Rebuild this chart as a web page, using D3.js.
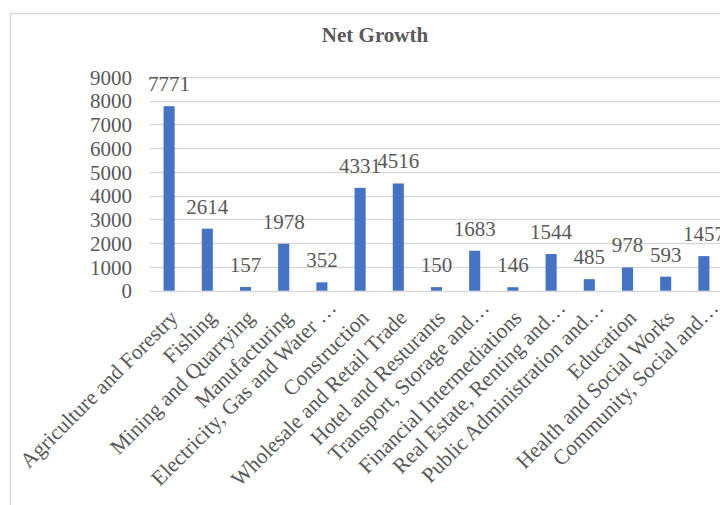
<!DOCTYPE html>
<html>
<head>
<meta charset="utf-8">
<script src="https://cdn.jsdelivr.net/npm/d3@7"></script>
<style>
  html, body { margin: 0; padding: 0; background: #fff; overflow: hidden; }
  svg { display: block; }
</style>
</head>
<body>
<svg id="chart" width="720" height="505"></svg>
<script>
const categories = [
  "Agriculture and Forestry",
  "Fishing",
  "Mining and Quarrying",
  "Manufacturing",
  "Electricity, Gas and Water …",
  "Construction",
  "Wholesale and Retail Trade",
  "Hotel and Resturants",
  "Transport, Storage and…",
  "Financial Intermediations",
  "Real Estate, Renting and…",
  "Public Administration and…",
  "Education",
  "Health and Social Works",
  "Community, Social and…"
];
const values = [7771, 2614, 157, 1978, 352, 4331, 4516, 150, 1683, 146, 1544, 485, 978, 593, 1457];
const yTicks = [0, 1000, 2000, 3000, 4000, 5000, 6000, 7000, 8000, 9000];
const title = "Net Growth";

const svg = d3.select("#chart");
const FONT = "'Liberation Serif', 'Times New Roman', serif";
const TXT = "#595959";

// chart border
svg.append("rect")
  .attr("x", 10.5).attr("y", 13.5)
  .attr("width", 800).attr("height", 600)
  .attr("fill", "#fff")
  .attr("stroke", "#d9d9d9").attr("stroke-width", 1.5);

const x = d3.scaleBand()
  .domain(categories)
  .range([150, 723])
  .paddingInner(0.71)
  .paddingOuter(0.355);

const y = d3.scaleLinear()
  .domain([0, 9000])
  .range([290.7, 77]);

// title
svg.append("text")
  .attr("x", 375).attr("y", 41.5)
  .attr("text-anchor", "middle")
  .attr("font-family", FONT)
  .attr("font-weight", "bold")
  .attr("font-size", 21)
  .attr("fill", TXT)
  .text(title);

// gridlines
svg.append("g").selectAll("line")
  .data(yTicks)
  .join("line")
  .attr("x1", 150).attr("x2", 740)
  .attr("y1", d => Math.round(y(d)) + 0.5)
  .attr("y2", d => Math.round(y(d)) + 0.5)
  .attr("stroke", "#d9d9d9")
  .attr("stroke-width", d => d === 0 ? 1.5 : 1.3);

// y axis labels
const yAxis = d3.axisLeft(y).tickValues(yTicks).tickSize(0).tickPadding(0).tickFormat(d3.format("d"));
const yg = svg.append("g").attr("transform", "translate(132,0)").call(yAxis);
yg.select(".domain").remove();
yg.selectAll("text")
  .attr("font-family", FONT)
  .attr("font-size", 21)
  .attr("fill", TXT)
  .attr("x", 0)
  .attr("dy", "0.34em");

// bars
svg.append("g").selectAll("rect")
  .data(values)
  .join("rect")
  .attr("x", (d, i) => x(categories[i]))
  .attr("width", x.bandwidth())
  .attr("y", d => y(d))
  .attr("height", d => y(0) - y(d))
  .attr("fill", "#4472C4");

// data labels
svg.append("g").selectAll("text")
  .data(values)
  .join("text")
  .attr("x", (d, i) => x(categories[i]) + x.bandwidth() / 2)
  .attr("y", d => y(d) - 15)
  .attr("text-anchor", "middle")
  .attr("font-family", FONT)
  .attr("font-size", 21)
  .attr("fill", TXT)
  .text(d => d);

// category labels
const xAxis = d3.axisBottom(x).tickSize(0).tickPadding(0);
const xg = svg.append("g").attr("transform", "translate(0,291)").call(xAxis);
xg.select(".domain").remove();
xg.selectAll("text")
  .attr("font-family", FONT)
  .attr("font-size", 21.5)
  .attr("fill", TXT)
  .attr("text-anchor", "end")
  .attr("dy", "0.35em")
  .attr("transform", "translate(4.7,22.7) rotate(-45)")
  .attr("y", d => d.endsWith("…") ? -3 : 0)
  .attr("x", d => d.endsWith("…") ? 11 : 0);
</script>
</body>
</html>
